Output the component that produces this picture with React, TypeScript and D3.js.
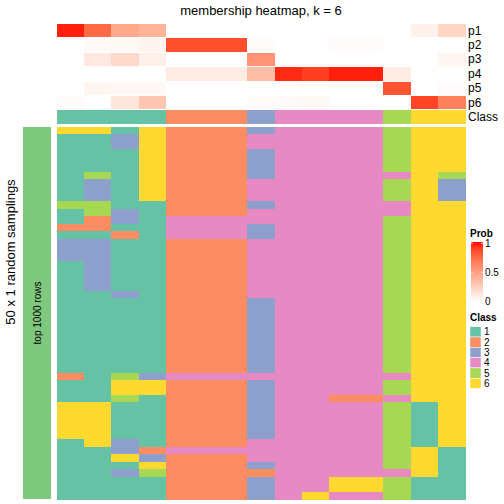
import React from "react";
import * as d3 from "d3";

const title = "membership heatmap, k = 6";
const classOfColumn = [1, 1, 1, 1, 2, 2, 2, 3, 4, 4, 4, 4, 5, 6, 6];
const p1 = [0.97, 0.75, 0.45, 0.4, 0, 0, 0, 0, 0, 0, 0, 0, 0, 0.07, 0.22];
const p2 = [0, 0.03, 0.04, 0.06, 0.85, 0.85, 0.85, 0.02, 0, 0, 0.02, 0.02, 0, 0, 0];
const p3 = [0, 0.12, 0.2, 0.08, 0, 0, 0, 0.55, 0, 0, 0, 0, 0, 0, 0.05];
const p4 = [0, 0, 0, 0, 0.1, 0.1, 0.1, 0.35, 0.95, 0.9, 0.97, 0.97, 0.1, 0, 0];
const p5 = [0, 0.05, 0.04, 0.04, 0, 0, 0, 0, 0, 0, 0, 0, 0.83, 0, 0.02];
const p6 = [0.02, 0, 0.13, 0.3, 0, 0, 0, 0.02, 0.03, 0.04, 0, 0, 0, 0.88, 0.65];
const probRows = [p1, p2, p3, p4, p5, p6];
const probLabels = ["p1", "p2", "p3", "p4", "p5", "p6"];
const classLabels = ["1", "2", "3", "4", "5", "6"];
const classColors = ["#66C2A5", "#FC8D62", "#8DA0CB", "#E78AC3", "#A6D854", "#FFD92F"];
const probTicks = [0, 0.5, 1];

const samplingRows = [
  "661622234444566",
  "113622244444566",
  "113622244444566",
  "111622234444566",
  "111622234444566",
  "111622234444566",
  "151622234444465",
  "131622244444563",
  "131622244444563",
  "131622244444563",
  "551122234444466",
  "153122244444466",
  "123144444444566",
  "221144434444566",
  "112144434444566",
  "331122244444566",
  "331122244444566",
  "331122244444566",
  "131122244444566",
  "131122244444566",
  "131122244444566",
  "131122244444566",
  "113122244444566",
  "111122234444566",
  "111122234444566",
  "111122234444566",
  "111122234444566",
  "111122234444566",
  "111122234444566",
  "111122234444566",
  "111122234444566",
  "111122234444566",
  "111122234444566",
  "215344444444466",
  "116622234444566",
  "116622234444566",
  "115122234422466",
  "661122234444516",
  "661122234444516",
  "661122234444516",
  "661122234444516",
  "661122234444516",
  "163122244444516",
  "113244444444561",
  "116322244444561",
  "111622234444561",
  "113522224444461",
  "111122234466511",
  "111122234466511",
  "111122234644511",
];

const FONT = "'Liberation Sans', Arial, Helvetica, sans-serif";

export default function App() {
  const nCol = classOfColumn.length;
  const cols = d3.range(nCol);
  const x = d3.scaleBand<number>().domain(cols).range([57, 465]).padding(0);
  const topRows = d3.range(7);
  const yTop = d3.scaleBand<number>().domain(topRows).range([24, 123.7]).paddingInner(0.07);
  const y = d3.scaleBand<number>().domain(d3.range(samplingRows.length)).range([127, 499]).padding(0);
  const probColor = d3.scaleLinear<string>().domain([0, 1]).range(["#ffffff", "#ff0000"]).interpolate(d3.interpolateLab);
  const classColor = d3.scaleOrdinal<number, string>().domain([1, 2, 3, 4, 5, 6]).range(classColors);
  const legendY = d3.scaleLinear().domain([0, 1]).range([301, 243.3]);
  const gradId = "probGrad";

  return (
    <div style={{ position: "fixed", left: 0, top: 0, width: 504, height: 504, background: "#fff" }}>
      <svg width={504} height={504} style={{ display: "block", fontFamily: FONT }}>
        <defs>
          <linearGradient id={gradId} x1="0" y1="1" x2="0" y2="0">
            {d3.range(0, 1.0001, 0.1).map((t) => (
              <stop key={t} offset={t} stopColor={probColor(t)} />
            ))}
          </linearGradient>
        </defs>
        <text x={261} y={15} textAnchor="middle" fontSize={13} fill="#000">{title}</text>

        {probRows.map((row, ri) => (
          <g key={"p" + ri}>
            <g shapeRendering="crispEdges">
              {row.map((v, ci) => (
                <rect key={ci} x={x(ci)} y={yTop(ri)} width={x.bandwidth() + 0.5} height={yTop.bandwidth()} fill={probColor(v)} />
              ))}
            </g>
            <text x={468} y={(yTop(ri) as number) + yTop.bandwidth() / 2} dominantBaseline="central" fontSize={12}>{probLabels[ri]}</text>
          </g>
        ))}
        <g>
          <g shapeRendering="crispEdges">
            {classOfColumn.map((c, ci) => (
              <rect key={ci} x={x(ci)} y={yTop(6)} width={x.bandwidth() + 0.5} height={yTop.bandwidth()} fill={classColor(c)} />
            ))}
          </g>
          <text x={468} y={(yTop(6) as number) + yTop.bandwidth() / 2} dominantBaseline="central" fontSize={12}>Class</text>
        </g>

        <g shapeRendering="crispEdges">
          {samplingRows.map((row, ri) => (
            <g key={"r" + ri}>
              {row.split("").map((ch, ci) => (
                <rect key={ci} x={x(ci)} y={y(ri)} width={x.bandwidth() + 0.5} height={y.bandwidth() + 0.5} fill={classColor(+ch)} />
              ))}
            </g>
          ))}
        </g>

        <rect x={23} y={127} width={28} height={372} fill="#7FC97F" />
        <text transform="translate(37,313) rotate(-90)" textAnchor="middle" dominantBaseline="central" fontSize={10}>top 1000 rows</text>
        <text transform="translate(10,252) rotate(-90)" textAnchor="middle" dominantBaseline="central" fontSize={13}>50 x 1 random samplings</text>

        <text x={470} y={237} fontSize={10} fontWeight="bold">Prob</text>
        <rect x={471} y={242} width={12} height={60} fill={`url(#${gradId})`} />
        {probTicks.map((t) => (
          <g key={t}>
            <line x1={471} x2={473} y1={legendY(t)} y2={legendY(t)} stroke="#fff" strokeWidth={0.8} />
            <line x1={481} x2={483} y1={legendY(t)} y2={legendY(t)} stroke="#fff" strokeWidth={0.8} />
            <text x={485} y={legendY(t)} dominantBaseline="central" fontSize={10}>{String(t)}</text>
          </g>
        ))}

        <text x={470} y={321} fontSize={10} fontWeight="bold">Class</text>
        {classLabels.map((lab, i) => (
          <g key={lab}>
            <rect x={470} y={326.7 + i * 10.3} width={11} height={10.3} fill={classColors[i]} stroke="#fff" strokeWidth={0.5} />
            <text x={484} y={326.7 + i * 10.3 + 5.2} dominantBaseline="central" fontSize={10}>{lab}</text>
          </g>
        ))}
      </svg>
    </div>
  );
}
